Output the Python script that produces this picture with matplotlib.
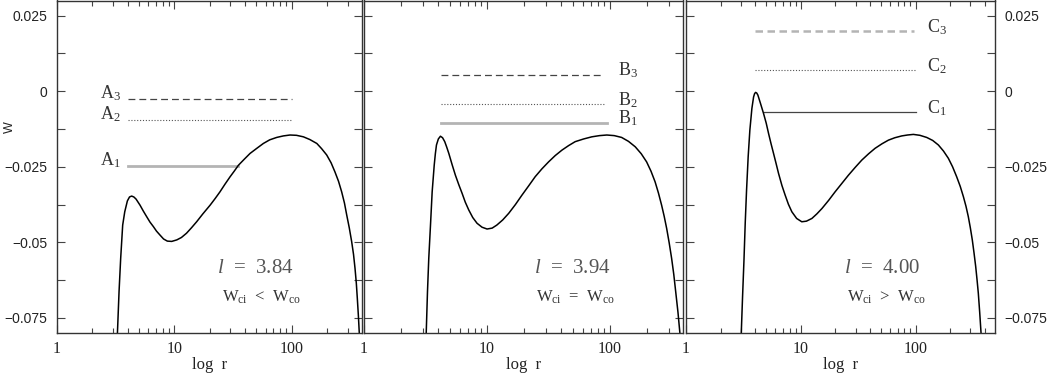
import matplotlib
matplotlib.use('Agg')
import matplotlib.pyplot as plt
from matplotlib.ticker import LogLocator, MultipleLocator, NullFormatter

plt.rcParams['font.family'] = 'Liberation Serif'
plt.rcParams['mathtext.fontset'] = 'custom'
plt.rcParams['mathtext.rm'] = 'Liberation Serif'
plt.rcParams['mathtext.it'] = 'Liberation Serif:italic'

# curves W(r)
r_a = [3.27, 3.38, 3.49, 3.63, 3.78, 3.98, 4.15, 4.33, 4.52, 4.72, 5.10, 5.45,
       5.81, 6.20, 6.63, 7.05, 7.55, 8.10, 8.72, 9.50, 10.5, 11.5, 12.7, 14.0,
       15.5, 17.5, 20.2, 22.3, 24.5, 27.0, 29.9, 32.5, 35.2, 39.5, 44.2, 50.5,
       57.4, 65.0, 74.6, 85.0, 96.9, 110, 126, 143, 164, 180, 199, 217, 234, 251,
       267, 282, 295, 310, 325, 337, 347, 356, 363, 371, 378]
w_a = [-0.0806, -0.0663, -0.0553, -0.0443, -0.0399, -0.0363, -0.0350, -0.0347,
       -0.0350, -0.0357, -0.0377, -0.0397, -0.0415, -0.0433, -0.0448, -0.0463,
       -0.0476, -0.0489, -0.0496, -0.0497, -0.0492, -0.0484, -0.0470, -0.0452,
       -0.0432, -0.0406, -0.0377, -0.0355, -0.0333, -0.0308, -0.0283, -0.0264,
       -0.0245, -0.0225, -0.0206, -0.0189, -0.0173, -0.0161, -0.0153, -0.0148,
       -0.0145, -0.0146, -0.0151, -0.0160, -0.0173, -0.0190, -0.0211, -0.0237,
       -0.0267, -0.0298, -0.0333, -0.0370, -0.0410, -0.0452, -0.0498, -0.0540,
       -0.0586, -0.0635, -0.0685, -0.0745, -0.0806]

r_b = [3.20, 3.28, 3.36, 3.47, 3.58, 3.72, 3.80, 3.88, 4.02, 4.18, 4.35, 4.53,
       4.70, 4.89, 5.20, 5.53, 5.90, 6.27, 6.65, 7.10, 7.65, 8.29, 9.10, 10.0,
       11.0, 12.0, 13.4, 15.0, 17.0, 19.2, 21.8, 24.6, 27.9, 31.6, 35.8, 40.6,
       46.0, 52.0, 61.0, 71.0, 82.0, 94.0, 108, 124, 141, 160, 179, 198, 215,
       232, 247, 262, 275, 288, 302, 316, 329, 341, 356, 370]
w_b = [-0.0806, -0.0663, -0.0553, -0.0443, -0.0333, -0.0245, -0.0207, -0.0178,
       -0.0158, -0.0149, -0.0154, -0.0167, -0.0185, -0.0206, -0.0243, -0.0278,
       -0.0310, -0.0338, -0.0367, -0.0393, -0.0418, -0.0437, -0.0450, -0.0456,
       -0.0453, -0.0443, -0.0426, -0.0404, -0.0375, -0.0344, -0.0313, -0.0283,
       -0.0257, -0.0234, -0.0213, -0.0195, -0.0180, -0.0167, -0.0158, -0.0151,
       -0.0147, -0.0145, -0.0147, -0.0153, -0.0166, -0.0184, -0.0207, -0.0234,
       -0.0265, -0.0300, -0.0337, -0.0377, -0.0414, -0.0454, -0.0502, -0.0553,
       -0.0606, -0.0663, -0.0732, -0.0806]

r_c = [3.03, 3.11, 3.20, 3.28, 3.37, 3.48, 3.60, 3.75, 3.88, 3.96, 4.04, 4.13,
       4.23, 4.46, 4.74, 5.00, 5.24, 5.50, 5.79, 6.10, 6.40, 6.85, 7.31, 7.80,
       8.36, 9.20, 10.2, 11.2, 12.5, 13.8, 15.3, 17.5, 19.9, 22.8, 26.0, 29.8,
       34.0, 39.0, 44.4, 51.0, 58.0, 66.0, 75.8, 85.0, 95.7, 109, 125, 141, 158,
       175, 193, 210, 228, 245, 261, 275, 288, 300, 312, 323, 334, 343, 352, 362,
       372]
w_c = [-0.0801, -0.0680, -0.0558, -0.0437, -0.0327, -0.0217, -0.0129, -0.0057,
       -0.0019, -0.0008, -0.0004, -0.0006, -0.0013, -0.0041, -0.0074, -0.0106,
       -0.0140, -0.0173, -0.0206, -0.0240, -0.0272, -0.0312, -0.0344, -0.0374,
       -0.0399, -0.0421, -0.0432, -0.0430, -0.0421, -0.0406, -0.0388, -0.0361,
       -0.0333, -0.0305, -0.0278, -0.0252, -0.0228, -0.0207, -0.0189, -0.0174,
       -0.0162, -0.0154, -0.0148, -0.0145, -0.0143, -0.0146, -0.0153, -0.0163,
       -0.0178, -0.0198, -0.0222, -0.0250, -0.0283, -0.0315, -0.0349, -0.0381,
       -0.0415, -0.0452, -0.0492, -0.0535, -0.0580, -0.0623, -0.0668, -0.0732,
       -0.0801]

# horizontal levels 1, 2, 3 in each panel
levels_a = [-0.0247, -0.0096, -0.0026]
levels_b = [-0.0105, -0.0044, 0.0055]
levels_c = [-0.0070, 0.0069, 0.0198]
start_a = [4.0, 4.0, 4.0]
end_a = [35.2, 100, 100]
start_b = [4.2, 4.2, 4.2]
end_b = [94, 91, 88]
start_c = [4.74, 4.0, 4.0]
end_c = [100, 100, 96]

l_values = ['3.84', '3.94', '4.00']
relations = ['<', '=', '>']
letters = ['A', 'B', 'C']

xtick_vals = [1, 10, 100]
xtick_labels = ['1', '10', '100']
ytick_vals = [0.025, 0, -0.025, -0.05, -0.075]
ytick_labels = ['0.025', '0', '\u22120.025', '\u22120.05', '\u22120.075']

fig = plt.figure(figsize=(10.53, 3.75), dpi=100)

# axes boxes in pixels (left, right) and x upper limits
boxes = [(57, 362), (364, 683), (686, 995)]
xmax = [398, 391, 492]
bottom, top = 333, 0.5

curves = [(r_a, w_a), (r_b, w_b), (r_c, w_c)]
levels = [levels_a, levels_b, levels_c]
starts = [start_a, start_b, start_c]
ends = [end_a, end_b, end_c]

light = '#b4b4b4'
dark = '#444444'
# (color, linewidth, linestyle) for level 1, 2, 3
styles = [
    [(light, 2.0, '-'), ('#555555', 0.8, (0, (1, 1.6))), (dark, 0.9, (0, (5.5, 3.2)))],
    [(light, 2.0, '-'), ('#555555', 0.8, (0, (1, 1.6))), (dark, 0.9, (0, (5.5, 3.2)))],
    [(dark, 0.9, '-'), ('#555555', 0.8, (0, (1, 1.6))), (light, 1.8, (0, (3.0, 1.8)))],
]
text_pos = [(0.525, 0.54), (0.533, 0.538), (0.512, 0.52)]

for i in range(3):
    x0, x1 = boxes[i]
    ax = fig.add_axes([x0 / 1053, (375 - bottom) / 375,
                       (x1 - x0) / 1053, (bottom - top) / 375])
    r, w = curves[i]

    for k in range(3):
        color, lw, ls = styles[i][k]
        y = levels[i][k]
        ax.plot([starts[i][k], ends[i][k]], [y, y], color=color, lw=lw, ls=ls)
        name = letters[i] + '$_' + str(k + 1) + '$'
        if i == 0:
            ax.annotate(name, (starts[i][k], y), xytext=(-5, 0.5),
                        textcoords='offset points', ha='right', va='baseline',
                        fontsize=13, color='#333333')
        else:
            ax.annotate(name, (max(ends[i]), y), xytext=(8, -0.5),
                        textcoords='offset points', ha='left', va='baseline',
                        fontsize=13, color='#333333')

    ax.plot(r, w, color='black', lw=1.1)

    ax.set_xscale('log')
    ax.set_xlim(1, xmax[i])
    ax.set_ylim(-0.08, 0.03)
    ax.set_xticks(xtick_vals, xtick_labels)
    ax.xaxis.set_minor_locator(LogLocator(subs=range(2, 10)))
    ax.xaxis.set_minor_formatter(NullFormatter())
    ax.yaxis.set_minor_locator(MultipleLocator(0.0125))
    if i == 1:
        ax.set_yticks(ytick_vals, [''] * len(ytick_vals))
    else:
        ax.set_yticks(ytick_vals, ytick_labels)

    ax.tick_params(which='both', direction='in', top=True, right=True,
                   color=dark, width=0.8)
    ax.tick_params(axis='x', which='major', length=6, pad=6,
                   labelsize=11.5, labelcolor='#222222')
    ax.tick_params(axis='x', which='minor', length=3.5)
    ax.tick_params(axis='y', which='both', length=6, pad=7, labelsize=10,
                   labelcolor='#222222', labelfontfamily='Liberation Sans')
    if i == 2:
        ax.tick_params(axis='y', which='both', labelleft=False, labelright=True)

    for s in ax.spines.values():
        s.set_color('#333333')
        s.set_linewidth(1.0)

    ax.set_xlabel('log  r', fontsize=12, color='#222222')
    ax.xaxis.set_label_coords(0.5, -0.072)

    tx1, tx2 = text_pos[i]
    ax.text(tx1, 0.195, '$\\mathit{l}$  =  ' + l_values[i], transform=ax.transAxes,
            fontsize=15, color='#555555', va='center', ha='left')
    ax.text(tx2, 0.108, 'W$_{\\rm ci}$  ' + relations[i] + '  W$_{\\rm co}$',
            transform=ax.transAxes, fontsize=12, color='#333333',
            va='center', ha='left')

fig.text(10 / 1053, 1 - 127 / 375, 'W', rotation=90, fontsize=9,
         family='Liberation Sans', ha='center', va='center', color='#222222')

fig.savefig('out.png', dpi=100)
